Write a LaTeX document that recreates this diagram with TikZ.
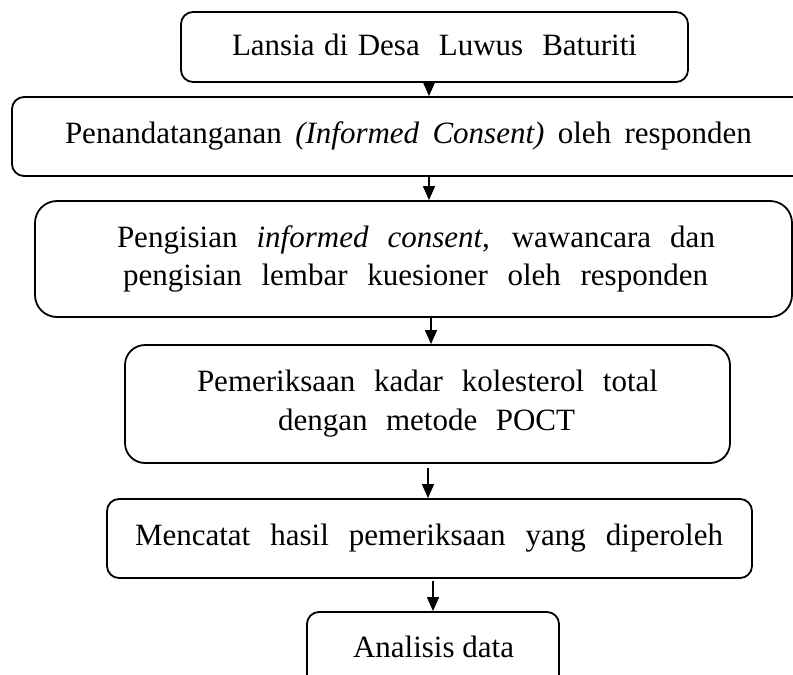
\documentclass[tikz,border=0pt]{standalone}
\usepackage{fontspec}
\setmainfont{Liberation Serif}
\usetikzlibrary{arrows.meta}
\begin{document}
\begin{tikzpicture}[x=1pt,y=-1pt,
  flowbox/.style={draw, line width=1.8pt, rounded corners=#1, inner sep=0pt},
  txt/.style={inner sep=0pt, anchor=base, font=\fontsize{31}{37}\selectfont},
  arr/.style={line width=1.3pt, -{Triangle[width=12pt,length=14pt]}}]
\clip (0,0) rectangle (793,675);
% boxes
\node[flowbox=12pt, minimum width=507pt, minimum height=70pt] (b1) at (434.5,47) {};
\node[flowbox=12pt, minimum width=798pt, minimum height=79pt] (b2) at (411,136.5) {};
\node[flowbox=22pt, minimum width=757pt, minimum height=116pt] (b3) at (413.5,259) {};
\node[flowbox=20pt, minimum width=605pt, minimum height=118pt] (b4) at (427.5,404) {};
\node[flowbox=12pt, minimum width=645pt, minimum height=79pt] (b5) at (429.5,538.5) {};
\node[flowbox=12pt, minimum width=252pt, minimum height=88pt] (b6) at (433,656) {};
% texts
\node[txt] (t1) at (434.5,55) {\makebox[405pt][s]{Lansia di Desa\ \ Luwus\ \ Baturiti}};
\node[txt] (t2) at (408.5,143) {\makebox[687pt][s]{Penandatanganan \textit{(Informed Consent)} oleh responden}};
\node[txt] (t3a) at (416,247) {\makebox[598pt][s]{Pengisian \textit{informed consent}, wawancara dan}};
\node[txt] (t3b) at (415.5,285) {\makebox[585pt][s]{pengisian lembar kuesioner oleh responden}};
\node[txt] (t4a) at (427.5,391) {\makebox[461pt][s]{Pemeriksaan kadar kolesterol total}};
\node[txt] (t4b) at (426.5,430) {\makebox[297pt][s]{dengan metode POCT}};
\node[txt] (t5) at (429,545) {\makebox[588pt][s]{Mencatat hasil pemeriksaan yang diperoleh}};
\node[txt] (t6) at (433.5,657) {Analisis data};
% arrow x positions
\coordinate (x1) at (429,0);
\coordinate (x2) at (429,0);
\coordinate (x3) at (431,0);
\coordinate (x4) at (428,0);
\coordinate (x5) at (433,0);
\draw[arr] (b1.south -| x1) -- (b2.north -| x1);
\draw[arr] (b2.south -| x2) -- (b3.north -| x2);
\draw[arr] (b3.south -| x3) -- (b4.north -| x3);
\draw[arr] ([yshift=-4pt]b4.south -| x4) -- (b5.north -| x4);
\draw[arr] ([yshift=-2pt]b5.south -| x5) -- (b6.north -| x5);
\end{tikzpicture}
\end{document}
